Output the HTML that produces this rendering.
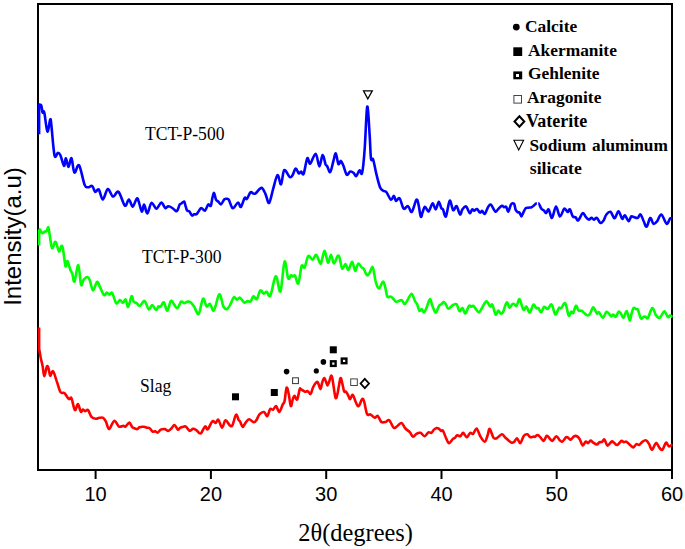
<!DOCTYPE html>
<html><head><meta charset="utf-8"><style>
html,body{margin:0;padding:0;background:#fff;width:685px;height:549px;overflow:hidden}
svg{display:block}
.tk{font-family:"Liberation Sans",sans-serif;font-size:20px;fill:#000}
.xl{font-family:"Liberation Serif",serif;font-size:24.4px;fill:#000}
.yl{font-family:"Liberation Sans",sans-serif;font-size:24px;fill:#000}
.lab{font-family:"Liberation Serif",serif;font-size:17.6px;fill:#000}
.lg{font-family:"Liberation Serif",serif;font-size:17.4px;font-weight:bold;fill:#000}
</style></head><body>
<svg width="685" height="549" viewBox="0 0 685 549">
<rect width="685" height="549" fill="#fff"/>
<rect x="38" y="4" width="634" height="466" fill="none" stroke="#000" stroke-width="2"/>
<path d="M39.1 134.2 L39.1 104.6C39.5 104.7 40.6 104.1 41.2 105.4C41.8 106.7 42.1 111.3 42.6 112.5C43.1 113.7 43.5 109.3 44.3 112.5C45.1 115.7 46.4 130.3 47.4 131.5C48.4 132.7 49.5 120.6 50.2 119.6C50.9 118.6 50.7 119.6 51.4 125.5C52.1 131.4 53.4 150.6 54.5 155.2C55.6 159.8 56.8 152.8 57.8 152.8C58.8 152.8 59.4 153.0 60.4 155.2C61.4 157.4 63.1 165.3 64.0 165.8C64.9 166.3 65.2 158.0 65.9 158.2C66.7 158.4 67.6 167.0 68.5 167.0C69.4 167.0 70.5 157.3 71.5 158.2C72.5 159.1 73.1 171.3 74.4 172.5C75.7 173.7 77.4 163.3 79.1 165.4C80.8 167.5 83.1 181.2 84.6 184.8C86.1 188.4 86.8 187.0 88.1 187.2C89.4 187.4 91.0 185.2 92.2 186.0C93.4 186.8 94.1 191.3 95.2 191.9C96.3 192.5 97.5 188.2 98.8 189.5C100.1 190.8 101.3 199.6 102.8 199.5C104.3 199.4 106.1 189.5 107.8 189.0C109.5 188.5 111.2 196.1 113.0 196.6C114.8 197.1 116.5 190.4 118.5 191.9C120.5 193.4 123.2 204.3 124.9 205.6C126.6 206.9 127.6 199.3 128.9 199.5C130.2 199.7 131.4 206.8 132.7 206.6C134.0 206.4 135.8 198.9 136.9 198.3C138.0 197.7 138.3 200.7 139.1 202.9C139.9 205.1 141.0 211.3 141.8 211.6C142.7 211.9 143.3 204.4 144.2 204.7C145.1 205.0 146.1 213.7 147.3 213.4C148.5 213.1 150.0 203.7 151.5 202.9C153.0 202.1 154.8 208.8 156.4 208.7C158.0 208.6 159.8 202.7 161.3 202.6C162.8 202.5 164.1 207.4 165.3 208.0C166.5 208.6 167.1 206.3 168.3 206.3C169.5 206.3 171.1 207.2 172.3 208.0C173.6 208.8 174.9 210.7 175.8 211.1C176.7 211.5 176.8 211.3 177.5 210.2C178.2 209.1 179.0 205.6 179.7 204.5C180.4 203.4 180.8 204.0 181.5 203.5C182.2 203.0 183.4 201.2 184.1 201.5C184.8 201.8 184.9 203.9 185.4 205.4C185.9 206.9 186.4 209.6 187.1 210.6C187.8 211.6 188.5 210.5 189.3 211.3C190.1 212.1 191.2 215.0 192.0 215.5C192.8 216.0 193.5 214.4 194.2 214.2C194.9 214.0 195.6 214.8 196.3 214.3C197.0 213.9 197.7 212.6 198.5 211.5C199.3 210.4 200.2 208.2 201.3 208.0C202.4 207.8 203.9 211.2 205.1 210.6C206.2 210.0 207.2 205.3 208.2 204.5C209.1 203.7 210.1 207.0 210.8 205.8C211.5 204.6 211.9 199.6 212.5 197.5C213.1 195.4 213.5 192.6 214.1 193.0C214.7 193.4 215.3 198.3 216.0 199.7C216.7 201.1 217.3 200.7 218.2 201.5C219.0 202.3 220.1 204.7 221.1 204.3C222.1 203.9 223.3 200.1 224.4 199.2C225.5 198.3 226.7 198.8 227.5 198.9C228.3 199.1 228.3 198.7 229.0 200.1C229.7 201.5 231.1 206.2 231.9 207.4C232.8 208.6 233.1 208.2 234.1 207.4C235.1 206.6 236.9 202.6 238.1 202.5C239.2 202.4 239.9 207.7 241.0 206.9C242.1 206.1 243.7 199.1 244.7 197.8C245.7 196.5 245.9 199.8 246.9 198.9C247.9 198.0 249.4 193.2 250.5 192.3C251.6 191.4 252.3 193.2 253.2 193.4C254.0 193.6 254.2 194.3 255.6 193.4C257.0 192.5 259.8 187.8 261.4 187.9C263.0 188.0 264.1 191.3 265.4 193.8C266.7 196.3 267.8 203.8 269.1 202.9C270.4 202.0 271.9 192.9 273.3 188.3C274.7 183.7 276.2 175.9 277.5 175.2C278.8 174.5 280.0 185.2 281.1 184.3C282.2 183.5 282.8 171.3 284.2 170.1C285.6 168.9 288.3 176.1 289.7 177.0C291.1 177.9 291.4 176.9 292.4 175.5C293.4 174.1 294.6 168.9 295.7 168.6C296.8 168.2 297.9 172.9 298.8 173.4C299.7 173.9 300.3 171.4 301.1 171.5C301.9 171.6 302.7 175.9 303.7 173.7C304.7 171.5 306.2 159.9 307.3 158.2C308.4 156.5 308.8 164.4 310.2 163.7C311.6 162.9 314.2 153.2 315.7 153.7C317.2 154.1 318.2 166.2 319.4 166.4C320.5 166.6 321.6 155.3 322.6 155.0C323.6 154.7 324.9 162.7 325.6 164.5C326.4 166.3 326.3 164.7 327.1 166.0C327.9 167.3 329.2 172.9 330.2 172.1C331.2 171.3 332.4 164.5 333.3 161.4C334.2 158.3 335.0 152.9 335.8 153.3C336.6 153.7 337.5 162.7 338.4 164.0C339.2 165.3 340.0 160.6 340.9 160.9C341.8 161.2 342.5 163.7 343.5 166.0C344.5 168.3 345.7 173.8 346.8 174.7C347.9 175.6 349.0 171.9 350.1 171.6C351.2 171.3 352.7 172.1 353.7 172.9C354.7 173.7 355.2 176.6 356.2 176.2C357.2 175.8 358.5 170.9 359.5 170.4C360.5 169.9 361.2 176.3 362.1 172.9C363.0 169.5 363.8 161.1 364.6 150.0C365.5 138.9 366.4 108.9 367.2 106.6C368.0 104.2 369.1 127.2 369.7 135.9C370.3 144.6 370.4 155.0 371.0 158.9C371.6 162.8 372.2 157.1 373.1 159.4C374.0 161.7 375.0 168.3 376.1 172.9C377.2 177.5 378.7 183.9 379.9 186.9C381.1 189.9 382.2 190.0 383.3 190.8C384.4 191.7 385.0 190.5 386.3 192.0C387.6 193.5 389.6 199.0 390.9 199.7C392.2 200.3 393.1 195.7 394.0 195.9C394.9 196.1 395.1 200.6 396.0 201.0C396.9 201.4 398.3 197.1 399.6 198.4C400.9 199.7 402.3 207.3 403.7 208.6C405.1 209.9 406.6 205.5 408.0 206.1C409.4 206.7 410.4 213.0 411.8 211.9C413.2 210.8 415.3 200.8 416.4 199.7C417.5 198.5 417.9 202.2 418.6 205.0C419.3 207.8 420.1 215.5 420.8 216.7C421.5 217.9 421.9 214.0 422.6 212.3C423.3 210.7 423.9 206.9 424.9 206.8C425.9 206.7 427.5 211.4 428.4 211.6C429.3 211.8 429.6 209.6 430.3 208.2C431.0 206.8 431.9 203.1 432.8 203.3C433.7 203.5 434.7 209.7 435.7 209.4C436.7 209.2 437.9 202.0 438.8 201.8C439.7 201.6 440.6 206.9 441.3 208.2C442.0 209.5 442.2 208.0 443.0 209.4C443.8 210.8 444.8 217.9 445.9 216.4C447.0 214.9 448.5 201.8 449.7 200.7C450.9 199.6 452.0 209.2 453.2 210.1C454.4 211.0 455.5 205.5 456.6 206.2C457.7 206.9 459.0 214.0 460.0 214.5C461.0 215.0 461.4 210.7 462.4 209.4C463.4 208.1 464.9 205.9 466.1 206.5C467.3 207.1 468.7 212.6 469.7 213.1C470.7 213.6 471.5 209.8 472.2 209.4C472.9 209.0 473.3 210.7 474.1 210.6C474.9 210.5 476.0 208.8 477.0 209.1C478.0 209.4 479.1 212.3 480.0 212.6C480.9 212.9 481.4 210.7 482.2 210.9C483.0 211.1 483.8 214.4 484.8 213.8C485.8 213.2 487.0 208.7 488.0 207.2C489.0 205.7 489.7 204.0 490.9 204.7C492.1 205.4 494.1 210.9 495.3 211.6C496.5 212.3 497.1 210.1 498.2 209.1C499.3 208.1 500.9 206.1 501.9 205.8C502.9 205.5 503.3 207.0 504.0 207.2C504.7 207.4 505.5 206.1 506.2 206.8C506.9 207.5 507.6 212.0 508.4 211.6C509.2 211.2 510.2 205.6 511.1 204.3C512.1 203.0 513.3 202.9 514.1 203.9C514.9 204.9 515.1 208.7 515.8 210.1C516.4 211.5 517.4 211.9 518.0 212.3C518.6 212.7 518.9 211.9 519.5 212.6C520.1 213.3 520.8 216.4 521.4 216.4C522.0 216.4 522.7 213.7 523.4 212.3C524.1 210.9 525.0 209.0 525.8 208.2C526.6 207.4 527.2 207.9 528.2 207.7C529.2 207.5 530.7 207.5 531.6 207.2C532.5 206.9 532.9 206.4 533.6 205.8C534.3 205.2 535.4 204.0 536.0 203.6C536.6 203.2 537.2 203.4 537.5 203.3" fill="none" stroke="#0000ff" stroke-width="2.6" stroke-linejoin="round" stroke-linecap="butt"/>
<path d="M537.5 203.3C537.7 203.4 538.2 203.0 538.9 203.9C539.5 204.8 540.6 207.6 541.4 208.7C542.2 209.8 543.1 209.9 543.9 210.6C544.7 211.3 545.4 213.3 546.2 213.1C547.0 212.9 547.7 208.6 548.7 209.4C549.7 210.2 550.8 218.4 552.0 217.9C553.2 217.4 554.7 206.8 556.0 206.5C557.3 206.2 558.5 216.0 559.9 216.4C561.3 216.8 563.0 209.4 564.3 208.7C565.6 208.0 566.8 211.9 567.7 212.0C568.6 212.1 569.0 208.7 569.9 209.4C570.8 210.1 571.8 215.1 572.8 216.4C573.8 217.7 574.8 216.7 575.7 217.4C576.6 218.1 577.1 221.1 578.3 220.4C579.5 219.7 581.4 213.7 582.7 213.1C584.0 212.5 584.9 215.9 585.9 217.0C586.9 218.1 587.9 219.4 588.8 219.6C589.7 219.8 590.6 217.9 591.5 217.9C592.4 217.9 593.0 219.6 593.9 219.6C594.8 219.6 595.8 217.4 596.9 217.9C598.0 218.4 599.1 222.3 600.2 222.8C601.3 223.3 602.4 222.2 603.4 220.8C604.4 219.4 605.2 216.0 606.4 214.5C607.6 213.0 609.1 211.2 610.5 211.8C611.9 212.4 613.3 218.4 614.6 218.3C615.9 218.2 617.2 211.2 618.5 211.3C619.8 211.4 621.2 218.1 622.2 218.8C623.2 219.5 623.7 214.9 624.8 215.3C625.9 215.7 627.5 220.9 628.6 221.1C629.7 221.3 630.4 217.1 631.3 216.4C632.2 215.7 632.8 216.8 633.9 217.1C635.0 217.4 636.5 218.4 637.6 218.0C638.7 217.6 639.6 213.9 640.6 214.5C641.6 215.1 642.8 219.5 643.8 221.5C644.8 223.5 645.6 227.3 646.7 226.7C647.8 226.1 649.1 218.5 650.2 218.0C651.3 217.5 652.3 223.3 653.5 223.8C654.7 224.3 655.9 222.7 657.2 221.1C658.5 219.5 659.7 214.1 661.3 214.5C662.9 214.9 665.1 223.1 666.6 223.8C668.1 224.5 669.1 219.4 670.1 218.5C671.1 217.6 672.0 218.3 672.4 218.3" fill="none" stroke="#0000ff" stroke-width="2.6" stroke-linejoin="round" stroke-linecap="butt"/>
<rect x="536.9" y="198" width="1.3" height="12" fill="#fff"/>
<path d="M39.1 245.6 L39.1 231.0C39.3 230.8 39.6 229.2 40.1 229.5C40.6 229.8 41.4 232.8 42.2 233.1C43.0 233.4 44.2 231.8 45.0 231.5C45.8 231.2 46.2 231.8 46.7 231.1C47.2 230.4 47.8 226.5 48.3 227.4C48.8 228.3 49.3 232.9 49.9 236.4C50.5 239.9 51.3 247.2 52.1 248.2C52.9 249.1 54.2 242.8 54.9 242.1C55.6 241.4 55.8 242.2 56.5 243.8C57.2 245.4 58.2 251.2 59.0 251.5C59.8 251.8 60.7 246.3 61.4 245.9C62.1 245.5 62.3 245.8 63.0 249.2C63.7 252.6 64.8 264.2 65.5 266.2C66.2 268.2 66.7 260.5 67.5 261.0C68.3 261.5 69.3 267.0 70.1 269.2C70.9 271.4 71.7 272.1 72.4 274.1C73.1 276.2 73.5 283.0 74.5 281.5C75.5 280.0 77.2 264.6 78.3 265.1C79.4 265.7 80.2 282.4 81.1 284.8C82.0 287.2 82.4 281.1 83.5 279.8C84.6 278.5 86.5 276.9 87.6 277.0C88.6 277.1 88.9 278.1 89.8 280.3C90.7 282.6 91.8 290.2 93.0 290.5C94.2 290.8 95.8 282.6 97.0 282.0C98.2 281.4 98.7 284.7 99.9 286.9C101.1 289.1 102.8 294.2 104.0 295.1C105.2 296.0 105.9 292.6 106.8 292.5C107.7 292.4 108.5 294.5 109.4 294.6C110.3 294.7 111.1 291.6 112.2 293.0C113.3 294.4 115.0 302.1 116.3 303.3C117.6 304.5 118.8 300.1 119.9 300.0C121.0 299.9 121.9 302.9 122.9 302.8C123.9 302.7 124.9 298.8 125.8 299.5C126.7 300.2 127.1 307.4 128.1 306.9C129.1 306.3 130.7 297.1 131.6 296.2C132.5 295.3 132.8 300.5 133.6 301.6C134.4 302.8 135.5 302.4 136.6 303.1C137.7 303.8 138.6 306.4 139.9 306.0C141.2 305.6 143.1 300.3 144.6 300.9C146.1 301.4 147.4 308.6 148.7 309.3C150.0 310.0 151.0 304.9 152.2 305.0C153.4 305.1 154.9 309.7 156.0 309.9C157.1 310.1 157.7 306.9 158.5 306.4C159.3 305.9 159.8 307.4 160.7 306.7C161.6 306.0 162.8 301.6 163.9 302.3C165.0 303.0 166.0 311.0 167.2 310.8C168.4 310.6 169.8 301.9 170.9 300.9C172.1 299.8 173.0 303.3 174.1 304.5C175.2 305.7 176.2 308.7 177.4 308.2C178.6 307.7 180.0 302.5 181.1 301.6C182.2 300.8 182.9 303.1 184.0 303.1C185.1 303.1 186.6 301.7 187.7 301.6C188.8 301.5 189.5 301.5 190.6 302.3C191.7 303.1 192.9 304.8 194.2 306.7C195.5 308.6 197.1 315.3 198.6 314.0C200.1 312.7 201.7 300.0 203.0 298.7C204.3 297.4 205.4 305.5 206.6 306.4C207.8 307.2 208.8 303.1 210.0 303.8C211.2 304.5 212.3 312.0 213.9 310.4C215.5 308.8 217.7 295.0 219.3 294.3C220.9 293.6 222.1 303.9 223.4 306.4C224.7 308.9 225.8 309.5 227.0 309.1C228.2 308.7 229.4 306.2 230.5 304.2C231.6 302.2 232.7 298.0 233.8 297.2C234.9 296.4 236.0 299.5 237.0 299.6C238.0 299.7 238.7 297.2 239.9 297.7C241.1 298.2 243.0 301.9 244.3 302.5C245.6 303.1 246.6 301.1 247.6 301.0C248.6 300.9 249.5 302.4 250.5 301.6C251.5 300.8 252.4 296.6 253.5 296.2C254.6 295.8 255.7 300.1 256.8 299.1C257.9 298.1 259.2 291.3 260.3 290.4C261.4 289.5 262.6 293.5 263.7 293.7C264.8 293.9 265.5 291.4 266.6 291.8C267.7 292.2 269.0 298.0 270.3 295.8C271.6 293.6 273.5 281.7 274.6 278.7C275.7 275.7 275.8 275.6 276.8 277.7C277.8 279.8 279.2 294.1 280.5 291.4C281.8 288.7 283.3 263.8 284.6 261.6C285.9 259.4 287.0 275.9 288.1 278.2C289.2 280.5 290.2 275.6 291.0 275.3C291.8 275.0 292.2 276.4 292.9 276.5C293.6 276.6 294.2 274.6 295.1 275.8C296.0 277.0 297.2 285.1 298.3 283.5C299.4 281.9 300.6 268.7 301.6 266.0C302.7 263.3 303.5 269.0 304.6 267.4C305.7 265.8 306.9 257.4 308.2 256.1C309.5 254.8 311.3 259.9 312.6 259.7C313.9 259.5 314.9 254.3 316.2 254.9C317.5 255.5 319.3 262.5 320.2 263.4C321.1 264.3 321.1 262.5 321.8 260.4C322.6 258.3 323.7 250.5 324.7 250.9C325.7 251.3 326.9 261.9 328.0 262.6C329.1 263.3 330.0 254.8 331.0 254.9C332.0 255.0 332.8 263.2 333.9 263.4C335.0 263.5 336.8 256.7 337.8 255.8C338.8 254.9 339.0 256.1 339.7 258.2C340.4 260.3 341.2 267.5 342.2 268.5C343.2 269.5 344.4 263.9 345.5 264.1C346.6 264.3 347.4 270.3 348.5 269.9C349.6 269.5 351.0 261.7 352.1 261.9C353.2 262.1 354.3 270.6 355.3 270.9C356.3 271.2 357.1 264.2 358.2 263.6C359.2 263.0 360.7 266.5 361.6 267.4C362.5 268.3 362.9 267.6 363.8 268.9C364.7 270.2 366.0 274.6 367.0 275.3C368.0 276.0 368.7 274.2 369.6 272.8C370.5 271.4 371.8 266.4 372.6 267.0C373.5 267.6 374.1 273.8 374.7 276.5C375.3 279.2 375.5 281.5 376.2 283.5C376.9 285.5 378.0 288.8 379.1 288.5C380.2 288.2 381.8 282.0 382.8 281.6C383.8 281.2 384.2 283.9 385.0 286.4C385.8 288.9 386.5 294.9 387.4 296.6C388.2 298.3 389.3 296.4 390.1 296.6C390.9 296.8 391.3 296.9 392.3 297.7C393.3 298.5 394.8 301.1 395.9 301.6C397.0 302.2 397.8 301.2 398.8 301.0C399.8 300.8 400.8 299.6 401.8 300.1C402.8 300.6 403.7 304.2 404.7 304.2C405.7 304.2 406.4 301.6 407.6 299.9C408.8 298.1 410.5 293.5 411.7 293.7C412.9 293.9 414.0 299.2 414.9 301.0C415.8 302.8 416.4 302.6 417.1 304.2C417.9 305.8 418.6 310.1 419.4 310.9C420.1 311.7 420.9 308.9 421.6 309.1C422.3 309.3 423.0 312.5 423.8 312.3C424.6 312.1 425.4 310.4 426.4 308.2C427.4 306.0 428.9 299.5 429.9 299.2C430.9 298.9 431.5 304.0 432.5 306.2C433.5 308.4 434.6 312.7 435.7 312.6C436.8 312.5 438.2 307.2 439.1 305.8C440.0 304.4 440.6 304.9 441.3 304.3C442.0 303.7 442.8 302.2 443.5 302.1C444.2 302.0 444.9 302.8 445.7 303.9C446.5 305.0 447.1 308.5 448.3 308.7C449.5 308.9 451.6 305.7 453.0 305.0C454.4 304.3 455.5 303.3 456.6 304.3C457.7 305.3 458.5 310.6 459.5 311.2C460.5 311.8 461.4 307.6 462.4 308.0C463.4 308.4 464.3 313.9 465.4 313.5C466.5 313.1 468.0 306.9 469.0 305.8C470.0 304.7 470.5 306.8 471.2 306.8C471.9 306.8 472.5 305.3 473.4 305.8C474.2 306.3 475.3 308.6 476.3 309.7C477.3 310.8 478.2 312.7 479.2 312.3C480.2 311.9 481.2 309.0 482.4 307.2C483.6 305.4 485.2 301.5 486.5 301.4C487.8 301.3 489.2 305.9 490.2 306.5C491.2 307.1 491.5 303.4 492.4 304.7C493.3 306.0 494.6 313.5 495.6 314.5C496.6 315.5 497.3 310.7 498.2 310.6C499.1 310.5 500.2 313.6 501.1 313.8C502.0 314.0 502.4 313.5 503.3 311.6C504.2 309.7 505.6 303.0 506.7 302.4C507.8 301.8 508.7 307.4 509.6 307.7C510.5 308.0 511.5 304.9 512.2 304.3C513.0 303.7 513.4 303.6 514.1 303.9C514.8 304.1 515.7 306.6 516.6 305.8C517.5 305.0 518.4 298.6 519.5 299.2C520.6 299.8 522.2 308.5 523.4 309.7C524.5 310.9 525.3 306.0 526.4 306.5C527.5 307.0 528.5 312.9 529.7 312.6C530.9 312.3 532.3 305.4 533.4 304.7C534.5 304.0 535.4 307.6 536.3 308.2C537.1 308.8 537.7 307.5 538.5 308.2C539.3 308.9 540.0 312.5 541.0 312.3C542.0 312.1 543.2 307.3 544.3 306.8C545.4 306.3 546.5 309.5 547.7 309.1C548.9 308.7 550.3 303.6 551.6 304.5C552.9 305.4 554.1 313.9 555.3 314.5C556.5 315.1 557.9 309.1 558.9 308.0C559.9 306.9 560.0 309.0 561.1 308.2C562.2 307.4 563.9 302.1 565.2 303.3C566.5 304.5 567.7 314.1 568.7 315.5C569.7 316.9 570.6 312.0 571.3 311.6C572.0 311.2 572.3 314.1 573.1 313.1C573.9 312.1 575.1 306.2 576.0 305.8C576.9 305.4 577.7 309.8 578.6 310.6C579.5 311.4 580.4 310.3 581.2 310.6C582.1 310.9 582.7 311.8 583.7 312.6C584.7 313.4 586.4 315.3 587.4 315.5C588.4 315.7 589.0 315.2 590.0 313.8C591.0 312.4 592.1 307.2 593.2 307.2C594.4 307.1 595.9 312.6 596.9 313.5C597.9 314.4 598.0 311.6 599.0 312.3C600.0 313.0 601.7 317.7 602.9 317.6C604.1 317.5 605.4 312.4 606.4 311.8C607.4 311.2 608.3 313.1 609.1 313.9C609.9 314.7 610.4 316.3 611.1 316.4C611.8 316.5 612.3 314.4 613.1 314.5C613.9 314.6 614.9 317.2 615.8 316.8C616.7 316.4 617.7 312.4 618.5 311.8C619.3 311.2 620.0 312.3 620.8 313.3C621.6 314.3 622.5 318.3 623.4 318.0C624.3 317.7 625.5 311.9 626.3 311.3C627.1 310.7 627.4 312.9 628.0 314.5C628.6 316.1 629.2 320.7 629.8 320.6C630.4 320.5 630.9 316.0 631.5 313.9C632.1 311.8 632.8 308.8 633.6 308.0C634.4 307.2 635.5 308.9 636.2 309.2C636.9 309.5 637.2 308.2 638.0 309.8C638.8 311.4 639.9 317.3 640.9 318.5C641.9 319.7 643.0 317.1 643.8 316.8C644.6 316.5 644.8 316.6 645.5 316.8C646.2 317.0 646.8 319.5 647.9 318.0C649.0 316.5 651.0 308.5 652.3 308.0C653.6 307.5 654.6 313.3 655.8 315.0C657.0 316.7 658.3 318.0 659.3 318.0C660.3 318.0 660.8 316.1 661.7 315.0C662.6 313.9 663.5 310.9 664.5 311.3C665.5 311.7 667.1 316.4 668.0 317.1C668.9 317.8 669.4 315.3 670.1 315.3C670.8 315.3 672.0 316.8 672.4 317.1" fill="none" stroke="#00ff00" stroke-width="2.6" stroke-linejoin="round" stroke-linecap="butt"/>
<path d="M39.1 327.6 L39.1 348.4C39.4 350.0 40.2 355.3 40.8 358.2C41.4 361.1 42.0 362.9 42.6 365.9C43.2 368.9 43.6 376.2 44.3 376.3C45.0 376.4 46.2 367.5 46.9 366.3C47.6 365.1 48.2 367.5 48.7 369.1C49.2 370.7 49.5 375.3 50.2 375.7C50.9 376.1 51.9 370.4 53.0 371.3C54.1 372.2 55.5 377.6 56.7 381.1C58.0 384.6 59.2 390.1 60.5 392.1C61.8 394.1 63.0 392.0 64.4 393.1C65.8 394.2 67.6 398.1 68.8 399.0C70.0 399.9 70.4 396.4 71.4 398.2C72.4 400.0 73.8 409.0 74.9 410.0C76.0 411.0 76.9 403.8 77.9 404.1C78.9 404.4 80.0 410.8 80.8 411.7C81.6 412.6 82.2 409.6 82.9 409.5C83.6 409.4 84.2 411.2 85.1 411.3C85.9 411.4 86.9 409.0 88.0 410.0C89.1 411.0 90.4 415.8 91.7 417.2C93.0 418.6 94.7 418.6 96.0 418.7C97.3 418.8 98.1 417.9 99.3 417.8C100.5 417.7 102.1 417.2 103.2 417.8C104.3 418.4 104.9 419.6 105.9 421.5C106.9 423.4 107.7 429.3 109.1 429.2C110.5 429.1 112.5 421.3 114.2 420.9C115.9 420.5 117.5 425.8 119.0 426.6C120.5 427.4 122.2 425.9 123.3 425.9C124.4 425.9 124.5 427.2 125.5 426.6C126.5 426.1 128.3 422.5 129.4 422.6C130.5 422.7 131.4 426.3 132.2 427.2C133.0 428.1 133.6 427.9 134.4 428.2C135.2 428.5 136.5 429.3 137.3 429.1C138.2 428.9 138.4 427.6 139.5 427.2C140.6 426.8 142.7 426.7 143.9 426.8C145.1 426.9 145.8 427.5 146.8 427.7C147.8 427.9 148.7 427.5 149.7 428.2C150.7 428.9 151.7 431.1 152.6 431.6C153.5 432.1 154.2 431.0 155.1 431.2C155.9 431.4 156.8 432.9 157.7 432.6C158.6 432.4 159.5 430.3 160.7 429.7C161.9 429.1 163.8 428.9 165.0 429.1C166.2 429.3 167.1 431.0 168.2 430.9C169.3 430.8 170.5 429.2 171.6 428.2C172.7 427.2 173.4 424.8 174.5 425.0C175.6 425.2 177.0 429.2 177.9 429.7C178.8 430.2 179.1 428.3 180.0 427.8C180.9 427.3 182.5 426.9 183.5 426.7C184.5 426.5 185.1 426.0 186.1 426.7C187.1 427.4 188.4 430.4 189.6 430.8C190.8 431.2 192.0 428.9 193.1 428.8C194.2 428.7 194.9 429.2 196.2 430.0C197.4 430.8 199.1 434.1 200.6 433.5C202.1 432.9 203.8 427.2 205.0 426.5C206.2 425.8 206.6 430.2 207.8 429.3C209.0 428.4 211.1 422.2 212.4 421.2C213.7 420.1 214.5 423.2 215.5 423.0C216.5 422.8 217.3 418.9 218.4 419.7C219.5 420.5 220.8 427.5 222.0 427.6C223.2 427.7 224.2 420.7 225.5 420.3C226.8 419.9 228.5 424.5 229.7 425.3C230.8 426.1 231.3 427.1 232.4 425.3C233.5 423.6 234.9 415.7 236.0 414.8C237.1 413.9 238.0 419.0 238.7 420.1C239.4 421.2 239.3 420.3 240.0 421.4C240.7 422.5 241.8 426.7 242.7 426.9C243.6 427.1 244.4 424.1 245.5 422.8C246.6 421.5 247.7 419.4 249.1 419.3C250.5 419.2 252.5 422.2 253.7 422.3C254.9 422.4 255.4 421.5 256.4 420.1C257.4 418.8 258.3 415.5 259.6 414.2C260.9 412.9 262.8 411.8 264.1 412.1C265.4 412.4 266.3 416.7 267.3 416.2C268.3 415.7 269.1 410.2 270.1 409.1C271.1 408.0 272.2 410.1 273.2 409.6C274.2 409.1 275.0 405.6 276.0 406.0C277.0 406.4 278.2 412.2 279.3 411.9C280.4 411.6 281.9 406.2 282.8 404.4C283.7 402.6 284.0 403.7 284.6 400.9C285.2 398.1 285.9 388.9 286.6 387.7C287.3 386.5 288.0 390.6 288.7 393.7C289.4 396.8 290.1 405.1 290.8 406.0C291.5 406.9 292.2 400.8 292.8 399.1C293.4 397.4 293.9 395.8 294.6 395.9C295.3 396.0 296.4 400.7 297.2 399.6C298.0 398.5 299.1 390.8 299.7 389.1C300.3 387.4 300.3 389.1 300.9 389.3C301.4 389.5 302.3 390.1 303.0 390.5C303.7 390.9 304.3 391.7 305.0 391.8C305.7 391.9 306.7 391.0 307.4 391.1C308.1 391.2 308.6 392.2 309.1 392.6C309.7 393.1 310.0 394.7 310.7 393.8C311.4 392.9 312.3 388.8 313.2 387.0C314.1 385.2 315.0 383.7 315.8 382.9C316.6 382.1 317.0 381.4 317.8 382.4C318.6 383.4 319.7 388.9 320.4 389.0C321.1 389.1 321.5 384.7 322.1 382.9C322.7 381.1 323.5 378.4 324.1 378.1C324.7 377.8 325.2 379.9 325.8 381.1C326.4 382.3 326.9 385.3 327.5 385.4C328.1 385.4 328.7 383.0 329.3 381.4C329.9 379.8 330.6 376.0 331.1 375.7C331.7 375.4 332.0 376.8 332.6 379.8C333.2 382.8 334.1 390.5 334.7 393.6C335.3 396.7 335.6 398.8 336.2 398.2C336.8 397.6 337.5 393.4 338.2 390.0C338.9 386.6 339.8 379.0 340.5 378.1C341.2 377.2 341.9 382.2 342.5 384.4C343.1 386.6 343.6 390.2 344.2 391.4C344.8 392.6 345.5 391.1 346.2 391.8C346.9 392.5 347.7 394.5 348.3 395.7C348.9 396.9 349.2 399.3 350.0 399.2C350.8 399.1 351.8 394.4 352.8 394.9C353.8 395.4 354.8 400.3 355.8 402.2C356.8 404.1 357.5 406.8 358.7 406.2C359.9 405.6 361.7 397.6 363.1 398.9C364.5 400.2 365.8 411.3 367.0 413.9C368.2 416.5 369.1 413.6 370.4 414.3C371.7 415.0 373.5 417.6 374.7 417.8C375.9 418.1 376.6 415.1 377.7 415.8C378.8 416.5 380.0 420.9 381.3 421.9C382.6 422.9 384.4 422.2 385.7 421.9C387.0 421.6 388.0 419.2 389.3 420.2C390.6 421.2 392.4 426.8 393.7 427.8C395.0 428.8 396.1 426.8 397.4 426.0C398.7 425.2 400.2 422.7 401.5 423.1C402.8 423.5 404.0 427.0 405.4 428.5C406.8 430.0 408.5 430.8 409.8 432.2C411.1 433.6 412.0 436.5 413.1 436.8C414.2 437.1 415.2 434.5 416.4 433.8C417.6 433.1 419.1 432.4 420.5 432.8C421.9 433.2 423.2 436.3 424.5 436.2C425.8 436.1 427.2 433.0 428.4 432.4C429.5 431.8 430.5 433.2 431.4 432.8C432.3 432.4 432.8 430.7 433.7 429.9C434.6 429.1 435.7 428.2 436.6 428.0C437.5 427.8 438.4 428.4 439.1 428.9C439.8 429.4 440.4 430.6 441.0 430.9C441.6 431.2 442.2 429.6 443.0 430.7C443.8 431.8 444.9 435.6 445.9 437.7C446.9 439.8 447.8 442.9 448.9 443.1C450.0 443.3 451.7 440.0 452.7 439.1C453.7 438.2 454.3 438.3 455.1 437.7C455.9 437.1 456.4 435.6 457.3 435.3C458.2 435.1 459.5 436.6 460.5 436.2C461.5 435.8 462.1 432.6 463.2 432.8C464.2 433.0 465.6 437.2 466.8 437.2C468.0 437.2 469.1 433.4 470.2 432.8C471.2 432.2 472.0 434.6 473.1 433.9C474.2 433.2 475.4 428.1 476.6 428.5C477.8 428.9 479.0 434.3 480.4 436.5C481.8 438.7 483.6 441.9 484.8 441.6C486.0 441.4 486.9 437.1 487.7 435.0C488.5 432.9 488.7 428.4 489.7 428.9C490.7 429.3 492.3 436.1 493.5 437.7C494.7 439.2 495.4 438.8 496.8 438.2C498.2 437.6 500.4 434.4 501.9 434.3C503.3 434.2 503.9 436.3 505.5 437.7C507.1 439.1 509.9 442.0 511.4 442.6C512.9 443.2 513.5 442.3 514.4 441.6C515.3 440.9 516.0 437.9 517.0 438.2C518.0 438.4 519.1 443.5 520.2 443.1C521.4 442.7 522.7 437.3 523.9 435.8C525.1 434.3 526.1 434.1 527.2 434.3C528.3 434.5 529.4 436.8 530.4 437.2C531.4 437.6 532.7 436.6 533.4 436.5C534.1 436.4 534.1 437.1 534.8 436.8C535.5 436.6 536.7 434.9 537.7 435.0C538.7 435.1 539.7 436.7 540.7 437.7C541.7 438.7 542.6 441.2 543.6 440.9C544.6 440.6 545.8 436.2 546.8 435.8C547.8 435.4 548.5 437.4 549.4 438.2C550.3 439.0 551.1 441.2 552.3 440.9C553.5 440.6 555.2 436.3 556.4 436.2C557.6 436.1 558.6 439.2 559.6 440.1C560.6 441.0 561.2 442.1 562.3 441.6C563.4 441.1 565.2 437.8 566.2 437.2C567.2 436.6 567.7 437.6 568.4 438.0C569.1 438.4 569.6 440.0 570.6 439.7C571.6 439.4 573.1 436.7 574.2 436.2C575.3 435.7 576.5 436.0 577.4 436.5C578.3 437.0 578.9 437.9 579.8 439.4C580.7 440.9 581.7 445.1 582.7 445.5C583.7 445.9 584.7 442.0 585.6 441.6C586.5 441.2 587.3 443.3 588.1 443.1C588.9 442.9 589.8 440.7 590.6 440.6C591.5 440.5 592.2 442.0 593.2 442.6C594.2 443.2 595.9 444.6 596.9 444.5C597.9 444.4 598.4 442.8 599.3 442.3C600.2 441.9 601.3 442.3 602.1 441.8C602.9 441.3 603.5 439.4 604.1 439.4C604.7 439.4 605.0 440.8 605.6 441.8C606.2 442.8 606.6 445.7 607.6 445.6C608.6 445.6 610.6 442.0 611.7 441.5C612.8 441.0 613.1 442.1 614.0 442.7C614.9 443.3 616.1 445.3 617.3 445.0C618.5 444.7 620.2 441.5 621.3 441.0C622.4 440.5 623.0 442.0 623.9 442.1C624.8 442.2 625.6 441.3 626.6 441.8C627.6 442.3 629.0 444.1 630.1 445.0C631.2 445.9 632.2 447.5 633.3 447.4C634.3 447.2 635.4 444.5 636.4 444.1C637.4 443.7 638.1 445.4 639.1 445.0C640.1 444.6 641.1 442.6 642.3 441.8C643.5 441.0 645.0 440.0 646.1 440.4C647.2 440.8 648.0 442.3 649.0 443.9C650.0 445.4 650.8 449.9 652.0 449.7C653.2 449.5 654.8 443.2 656.1 442.9C657.4 442.6 658.5 446.9 659.6 448.0C660.7 449.1 661.4 450.6 662.5 449.7C663.6 448.8 664.9 443.2 666.0 442.7C667.1 442.1 667.8 446.1 668.9 446.4C670.0 446.7 671.8 444.8 672.4 444.5" fill="none" stroke="#ff0000" stroke-width="2.6" stroke-linejoin="round" stroke-linecap="butt"/>
<line x1="95.6" y1="470" x2="95.6" y2="479" stroke="#000" stroke-width="2"/><line x1="210.9" y1="470" x2="210.9" y2="479" stroke="#000" stroke-width="2"/><line x1="326.2" y1="470" x2="326.2" y2="479" stroke="#000" stroke-width="2"/><line x1="441.5" y1="470" x2="441.5" y2="479" stroke="#000" stroke-width="2"/><line x1="556.7" y1="470" x2="556.7" y2="479" stroke="#000" stroke-width="2"/><line x1="672.0" y1="470" x2="672.0" y2="479" stroke="#000" stroke-width="2"/>
<text x="95.6" y="501" text-anchor="middle" class="tk">10</text><text x="210.9" y="501" text-anchor="middle" class="tk">20</text><text x="326.2" y="501" text-anchor="middle" class="tk">30</text><text x="441.5" y="501" text-anchor="middle" class="tk">40</text><text x="556.7" y="501" text-anchor="middle" class="tk">50</text><text x="672.0" y="501" text-anchor="middle" class="tk">60</text>
<text transform="translate(355.6 540.8) scale(1 1.035)" text-anchor="middle" class="xl">2θ(degrees)</text>
<text transform="translate(20.8 236.5) rotate(-90)" text-anchor="middle" class="yl">Intensity(a.u)</text>
<text transform="translate(145 139.9) scale(1 1.035)" class="lab">TCT-P-500</text>
<text transform="translate(142 263.4) scale(1 1.035)" class="lab">TCT-P-300</text>
<text transform="translate(140 391.9) scale(1 1.035)" class="lab">Slag</text>
<!-- peak marker -->
<path d="M363.5 90.9 L372.3 90.9 L367.8 98.9 Z" fill="none" stroke="#000" stroke-width="1.25"/>
<!-- slag markers -->
<rect x="232" y="393.3" width="7" height="7" fill="#000"/>
<rect x="270.8" y="389" width="7" height="7" fill="#000"/>
<rect x="329.8" y="346.3" width="7" height="7" fill="#000"/>
<circle cx="286.6" cy="371.6" r="2.8" fill="#000"/>
<circle cx="316.3" cy="370.9" r="2.6" fill="#000"/>
<circle cx="323.4" cy="361.9" r="2.8" fill="#000"/>
<rect x="331" y="361.3" width="4.6" height="4.6" fill="none" stroke="#000" stroke-width="2.4"/>
<rect x="341.8" y="358.6" width="4.6" height="4.6" fill="none" stroke="#000" stroke-width="2.4"/>
<rect x="292.6" y="377.8" width="5.8" height="5.8" fill="none" stroke="#333" stroke-width="1"/>
<rect x="350.7" y="378.9" width="6.6" height="6.6" fill="none" stroke="#444" stroke-width="1"/>
<path d="M364.8 378.8 L369 383.5 L364.8 388.2 L360.6 383.5 Z" fill="none" stroke="#000" stroke-width="1.8"/>
<!-- legend -->
<circle cx="516.3" cy="27.1" r="3.4" fill="#000"/>
<text x="525" y="32" class="lg">Calcite</text>
<rect x="513.3" y="47.3" width="8.9" height="8.7" fill="#000"/>
<text x="528" y="56" class="lg">Akermanite</text>
<rect x="513.3" y="71.4" width="8.9" height="7.9" fill="#000"/><rect x="516" y="74" width="3" height="3" fill="#fff"/>
<text x="528" y="79" class="lg">Gehlenite</text>
<rect x="513.9" y="95.5" width="7.6" height="7.6" fill="none" stroke="#444" stroke-width="1"/>
<text x="527" y="103" class="lg">Aragonite</text>
<path d="M519.4 116.2 L524.3 121.5 L519.4 126.8 L514.5 121.5 Z" fill="none" stroke="#000" stroke-width="2"/>
<text x="526" y="127.3" class="lg" style="font-size:18px">Vaterite</text>
<path d="M513.9 140.3 L523.6 140.3 L518.7 150 Z" fill="none" stroke="#000" stroke-width="1.1"/>
<text x="529.5" y="151" class="lg" style="font-size:17.3px;word-spacing:1.5px">Sodium aluminum</text>
<text x="529.8" y="174" class="lg" style="font-size:17.7px">silicate</text>
</svg>
</body></html>
